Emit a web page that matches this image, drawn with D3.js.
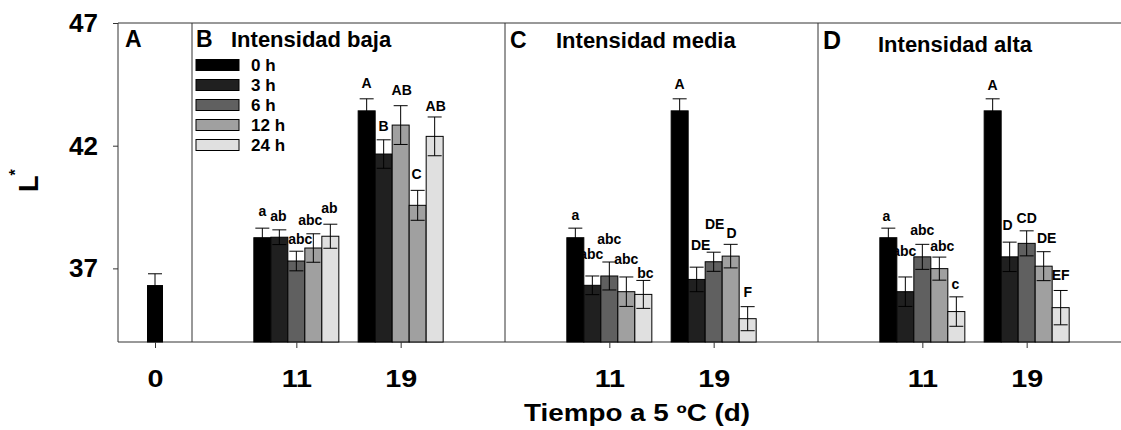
<!DOCTYPE html>
<html>
<head>
<meta charset="utf-8">
<script src="https://cdn.jsdelivr.net/npm/d3@7"></script>
<style>
  body { margin: 0; background: #fff; }
  text { font-family: "Liberation Sans", Arial, sans-serif; font-weight: bold; fill: #000; }
</style>
</head>
<body>
<svg width="1121" height="430"></svg>
<script>
// Series (horas de tratamiento) y colores de las barras
const series = ["0 h", "3 h", "6 h", "12 h", "24 h"];
const seriesColors = ["#000000", "#202020", "#606060", "#a0a0a0", "#e0e0e0"];

// Días de almacenamiento a 5 ºC
const days = ["11", "19"];
const yTicks = [37, 42, 47];

// Panel A: control a día 0
const controlDay = "0";
const controlMean = 36.3;
const controlErr = 0.48;

// Panel B: intensidad baja  (fila 0 = día 11, fila 1 = día 19)
const bajaMeans = [[38.25, 38.27, 37.30, 37.83, 38.31], [43.42, 41.66, 42.84, 39.57, 42.38]];
const bajaErr = [[0.39, 0.30, 0.40, 0.58, 0.49], [0.49, 0.58, 0.79, 0.61, 0.79]];
const bajaLetters = [["a", "ab", "abc", "abc", "ab"], ["A", "B", "AB", "C", "AB"]];

// Panel C: intensidad media
const mediaMeans = [[38.25, 36.31, 36.69, 36.05, 35.94], [43.42, 36.55, 37.27, 37.50, 34.95]];
const mediaErr = [[0.39, 0.38, 0.57, 0.60, 0.57], [0.49, 0.50, 0.39, 0.48, 0.49]];
const mediaLetters = [["a", "abc", "abc", "abc", "bc"], ["A", "DE", "DE", "D", "F"]];

// Panel D: intensidad alta
const altaMeans = [[38.25, 36.05, 37.47, 36.99, 35.24], [43.42, 37.47, 38.02, 37.09, 35.40]];
const altaErr = [[0.39, 0.60, 0.51, 0.47, 0.60], [0.49, 0.60, 0.51, 0.59, 0.70]];
const altaLetters = [["a", "abc", "abc", "abc", "c"], ["A", "D", "CD", "DE", "EF"]];

const panels = [
  { letter: "B", title: "Intensidad baja", means: bajaMeans, errs: bajaErr, letters: bajaLetters },
  { letter: "C", title: "Intensidad media", means: mediaMeans, errs: mediaErr, letters: mediaLetters },
  { letter: "D", title: "Intensidad alta", means: altaMeans, errs: altaErr, letters: altaLetters }
];

// Pequeños desplazamientos de las letras de significancia (px) para que no se solapen
const letterNudgeY = [
  [[-2, 1, 3, 1, -1], [-1, 1, -1, -1, 4]],
  [[2, -7, -8, -3, 8], [0, -7, -13, 4, 0]],
  [[3, -11, 1, 4, 2], [1, -2, 2, 1, 0]]
];
const letterNudgeX = [
  [[0, -1, 4, -3, -1], [0, 0, 1, -1, 1]],
  [[0, -1, 0, 0, 2], [0, 4, 1, 1, 0]],
  [[-2, -1, 0, 3, -1], [0, -2, 0, 3, 0]]
];

const svg = d3.select("svg");
const frameColor = "#333";

// Escala vertical común
const y = d3.scaleLinear().domain([34, 47]).range([342, 23]);
const yTop = y(47), yBottom = y(34);

// Límites horizontales de los paneles
const left = 118, panelAWidth = 74, panelWidth = 313;

// Marco: líneas superior e inferior, y separadores verticales
svg.append("line").attr("x1", left).attr("x2", 1121).attr("y1", yTop).attr("y2", yTop)
  .attr("stroke", frameColor);
svg.append("line").attr("x1", left).attr("x2", 1121).attr("y1", yBottom).attr("y2", yBottom)
  .attr("stroke", frameColor);
[left, left + panelAWidth, left + panelAWidth + panelWidth, left + panelAWidth + 2 * panelWidth]
  .forEach(xx => {
    svg.append("line").attr("x1", xx).attr("x2", xx).attr("y1", yTop).attr("y2", yBottom)
      .attr("stroke", frameColor);
  });

// Eje Y
const yAxis = svg.append("g")
  .attr("transform", `translate(${left},0)`)
  .call(d3.axisLeft(y).tickValues(yTicks).tickSize(5).tickPadding(15));
yAxis.select(".domain").remove();
yAxis.selectAll("line").attr("stroke", frameColor);
yAxis.selectAll("text").style("font-size", "26px").attr("font-family", null);

// Título del eje Y: L*
const yTitle = svg.append("text")
  .attr("transform", "translate(38,192) rotate(-90)")
  .style("font-size", "27px");
yTitle.append("tspan").text("L");
yTitle.append("tspan").text("*").attr("dy", -17).style("font-size", "16px");

// Función para dibujar un eje inferior con ticks
function drawBottomAxis(scale, values, format) {
  const g = svg.append("g")
    .attr("transform", `translate(0,${yBottom})`)
    .call(d3.axisBottom(scale).tickValues(values).tickFormat(format).tickSize(6).tickPadding(23));
  g.select(".domain").remove();
  g.selectAll("line").attr("stroke", frameColor);
  g.selectAll("text").style("font-size", "23px").attr("transform", "scale(1.25,1)");
}

// Función para dibujar una barra de error con remates arriba y abajo
function errorPath(cx, m, e, half) {
  const t = y(m + e), b = y(m - e);
  return `M${cx - half},${t}H${cx + half}M${cx},${t}V${b}M${cx - half},${b}H${cx + half}`;
}

// ---- Panel A ----
const xA = d3.scaleLinear().domain([0, 2]).range([left, left + panelAWidth]);
svg.append("rect")
  .attr("x", xA(1) - 7.5)
  .attr("y", y(controlMean))
  .attr("width", 15)
  .attr("height", yBottom - y(controlMean))
  .attr("fill", seriesColors[0])
  .attr("stroke", "#000");
svg.append("path")
  .attr("d", errorPath(xA(1), controlMean, controlErr, 7))
  .attr("stroke", "#000").attr("fill", "none");
drawBottomAxis(xA, [1], () => controlDay);
svg.append("text").attr("x", 125).attr("y", 47).style("font-size", "23px").text("A");

// ---- Paneles B, C y D ----
const inner = d3.scaleBand().domain(series).range([-42.5, 42.5]).padding(0);

panels.forEach((p, pi) => {
  const x0 = left + panelAWidth + pi * panelWidth;
  const x = d3.scaleLinear().domain([0, 3]).range([x0, x0 + panelWidth]);

  const bars = p.means.flatMap((row, g) => row.map((m, s) => ({
    g, s, m, e: p.errs[g][s], lab: p.letters[g][s]
  })));

  // Barras
  svg.append("g").selectAll("rect")
    .data(bars)
    .enter()
    .append("rect")
    .attr("x", d => x(d.g + 1) + inner(series[d.s]))
    .attr("y", d => y(d.m))
    .attr("width", inner.bandwidth())
    .attr("height", d => yBottom - y(d.m))
    // en el original la barra de 6 h del día 19 (intensidad baja) aparece en gris claro
    .attr("fill", d => (pi === 0 && d.g === 1 && d.s === 2) ? seriesColors[3] : seriesColors[d.s])
    .attr("stroke", "#000")
    .attr("stroke-width", 1);

  // Barras de error
  svg.append("g").selectAll("path")
    .data(bars)
    .enter()
    .append("path")
    .attr("d", d => errorPath(x(d.g + 1) + inner(series[d.s]) + inner.bandwidth() / 2, d.m, d.e, 7))
    .attr("stroke", "#000")
    .attr("fill", "none");

  // Letras de significancia
  svg.append("g").selectAll("text")
    .data(bars)
    .enter()
    .append("text")
    .attr("x", d => x(d.g + 1) + inner(series[d.s]) + inner.bandwidth() / 2 + letterNudgeX[pi][d.g][d.s])
    .attr("y", d => y(d.m + d.e) - 10 + letterNudgeY[pi][d.g][d.s])
    .attr("text-anchor", "middle")
    .style("font-size", "14px")
    .text(d => d.lab);

  drawBottomAxis(x, [1, 2], d => days[d - 1]);
});

// Letras y títulos de los paneles
svg.append("text").attr("x", 196).attr("y", 47).style("font-size", "23px").text("B");
svg.append("text").attr("x", 231).attr("y", 47).style("font-size", "22px").text(panels[0].title);
svg.append("text").attr("x", 510).attr("y", 48).style("font-size", "23px").text("C");
svg.append("text").attr("x", 556).attr("y", 48).style("font-size", "22px").text(panels[1].title);
svg.append("text").attr("x", 823).attr("y", 49).style("font-size", "25px").text("D");
svg.append("text").attr("x", 878).attr("y", 52).style("font-size", "22px").text(panels[2].title);

// Leyenda
const legend = svg.append("g").selectAll("g")
  .data(series)
  .enter()
  .append("g")
  .attr("transform", (d, i) => `translate(196,${65 + i * 20})`);
legend.append("rect")
  .attr("x", 0).attr("y", -5.5)
  .attr("width", 43).attr("height", 11)
  .attr("fill", (d, i) => seriesColors[i])
  .attr("stroke", "#000");
legend.append("text")
  .attr("x", 55).attr("y", 6)
  .style("font-size", "17px")
  .text(d => d);

// Título del eje X
svg.append("text")
  .attr("x", 637).attr("y", 421)
  .attr("text-anchor", "middle")
  .attr("textLength", 226)
  .attr("lengthAdjust", "spacingAndGlyphs")
  .style("font-size", "23px")
  .text("Tiempo a 5 ºC (d)");
</script>
</body>
</html>
